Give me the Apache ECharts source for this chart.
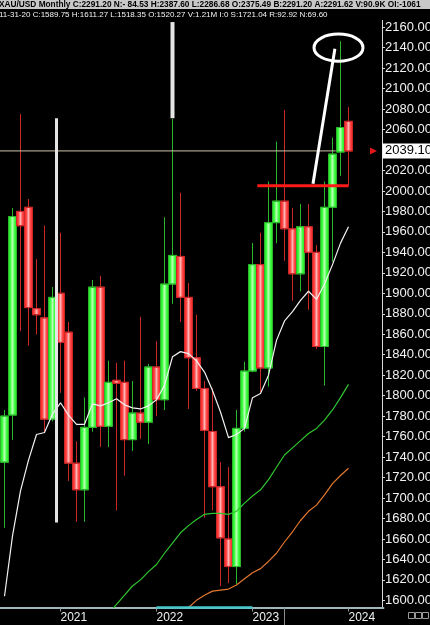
<!DOCTYPE html>
<html>
<head>
<meta charset="utf-8">
<title>XAU/USD Monthly</title>
<script src="https://cdn.jsdelivr.net/npm/echarts@6/dist/echarts.min.js"></script>
<style>
  html, body { margin: 0; padding: 0; background: #000; }
  #chart { width: 430px; height: 625px; }
</style>
</head>
<body>
<div id="chart"></div>
<script>
  // months on the x axis (last four are the empty room before the price scale)
  var months = ['2020-06','2020-07','2020-08','2020-09','2020-10','2020-11','2020-12',
    '2021-01','2021-02','2021-03','2021-04','2021-05','2021-06','2021-07','2021-08','2021-09','2021-10','2021-11','2021-12',
    '2022-01','2022-02','2022-03','2022-04','2022-05','2022-06','2022-07','2022-08','2022-09','2022-10','2022-11','2022-12',
    '2023-01','2023-02','2023-03','2023-04','2023-05','2023-06','2023-07','2023-08','2023-09','2023-10','2023-11','2023-12',
    '2024-01','2024-02','2024-03','2024-04','2024-05'];

  var opens  = [1735,1781,1980,1984,1885,1876,1777,1900,1862,1734,1708,1769,1906,1770,1815,1813,1757,1783,1774,1828,1796,1909,1936,1896,1837,1807,1765,1711,1660,1633,1768,1824,1928,1827,1969,1990,1963,1919,1965,1940,1848,1984,2038,2068];
  var closes = [1780,1975,1966,1886,1879,1777,1896,1852,1734,1708,1769,1906,1770,1813,1812,1757,1783,1774,1828,1796,1909,1937,1896,1837,1807,1766,1711,1661,1633,1768,1824,1928,1827,1969,1990,1963,1919,1965,1940,1848,1984,2036,2062,2039];
  var lows   = [1671,1757,1863,1849,1860,1765,1775,1803,1717,1677,1677,1765,1750,1750,1688,1722,1746,1758,1753,1780,1786,1890,1872,1787,1805,1681,1688,1614,1617,1616,1765,1823,1804,1809,1949,1932,1893,1902,1884,1846,1810,1931,2015,2005];
  var highs  = [1786,1983,2075,1992,1933,1966,1906,1959,1872,1755,1798,1913,1917,1834,1832,1834,1814,1877,1831,1853,1974,2070,1998,1910,1879,1814,1807,1735,1730,1786,1833,1949,1959,2009,2048,2079,1983,1987,1987,1947,2009,2052,2146,2082];

  // moving averages (white / green / orange)
  var maWhite = [1604,1663,1707,1737,1762,1764,1782,1793,1781,1772,1772,1792,1790,1793,1797,1791,1788,1787,1790,1796,1810,1838,1843,1841,1834,1823,1805,1784,1759,1762,1768,1798,1802,1820,1854,1873,1882,1893,1902,1894,1909,1928,1949,1965];
  var maGreen = [null,null,null,null,null,null,null,null,null,null,null,null,null,
    1587,1596,1605,1614,1620,1628,1635,1646,1656,1666,1673,1679,1684,1685,1685,1684,1687,1695,1702,1708,1718,1730,1742,1749,1756,1763,1768,1776,1786,1798,1811];
  var maOrange = [null,null,null,null,null,null,null,null,null,null,null,null,null,null,null,null,null,null,null,null,null,null,
    1586,1593,1600,1605,1609,1610,1611,1615,1621,1627,1631,1638,1646,1657,1667,1678,1687,1693,1703,1714,1722,1729];

  var priceTicks = [1600,1620,1640,1660,1680,1700,1720,1740,1760,1780,1800,1820,1840,1860,1880,1900,
    1920,1940,1960,1980,2000,2020,2040,2060,2080,2100,2120,2140,2160];
  var lastPrice = 2039.10;

  var headerLine1 = 'XAU/USD Monthly C:2291.20 N:- 84.53 H:2387.60 L:2286.68 O:2375.49 B:2291.20 A:2291.62 V:90.9K OI:-1061';
  var headerLine2 = '11-31-20 C:1589.75 H:1611.27 L:1518.35 O:1520.27 V:1.21M I:0 S:1721.04 R:92.92 N:69.60';

  // hand drawn notes, points are [month index, price]
  var noteBar1 = [[6.5, 1676], [6.5, 2071]];
  var noteBar2 = [[21, 2071], [21, 2165]];
  var noteLevel = [[31.6, 2005], [43.0, 2005]];
  var notePointer = [[38.56, 2007], [41.3, 2139]];
  var noteRing = {center: [41.75, 2140], rx: 3.06, ry: 13.2};
  var lastPriceLineEnd = 41.4;
  var highlightFrom = '2022-01', highlightTo = '2023-01';

  var candles = opens.map(function (o, i) { return [o, closes[i], lows[i], highs[i]]; });

  function isJan(index, value) { return value.slice(5) === '01'; }

  var upFill = new echarts.graphic.LinearGradient(0, 0, 1, 0, [
    {offset: 0, color: '#18d418'}, {offset: 0.28, color: '#45ff45'}, {offset: 0.5, color: '#b4ffb4'},
    {offset: 0.72, color: '#45ff45'}, {offset: 1, color: '#18d418'}]);
  var downFill = new echarts.graphic.LinearGradient(0, 0, 1, 0, [
    {offset: 0, color: '#f01818'}, {offset: 0.28, color: '#ff4848'}, {offset: 0.5, color: '#ffb4b4'},
    {offset: 0.72, color: '#ff4848'}, {offset: 1, color: '#f01818'}]);

  var chart = echarts.init(document.getElementById('chart'));
  chart.setOption({
    backgroundColor: '#000',
    animation: false,
    grid: {left: 0.5, right: 45.5, top: 20, bottom: 17.5, containLabel: false, outerBoundsMode: 'none'},
    xAxis: {
      type: 'category',
      data: months,
      boundaryGap: true,
      axisLine: {show: true, lineStyle: {color: '#9fb6ba', width: 2, type: [1, 1]}},
      axisTick: {show: true, alignWithLabel: true, interval: isJan, length: 4, lineStyle: {color: '#9a9a9a'}},
      axisLabel: {
        interval: isJan, align: 'left', margin: 4,
        color: '#f0f0f0', fontSize: 12, fontFamily: 'Liberation Sans',
        formatter: function (v) { return v.slice(0, 4); }
      },
      splitLine: {show: false}
    },
    yAxis: {
      type: 'value',
      position: 'right',
      offset: -2.5,
      min: 1593,
      max: 2167,
      axisLine: {show: true, lineStyle: {color: '#d8d8d8', width: 1}},
      axisTick: {show: true, length: 3, customValues: priceTicks, lineStyle: {color: '#d8d8d8'}},
      axisLabel: {
        customValues: priceTicks, margin: 3,
        color: '#f2f2f2', fontSize: 13, fontFamily: 'Liberation Sans',
        formatter: function (v) { return v.toFixed(2); }
      },
      splitLine: {show: false}
    },
    series: [
      {
        type: 'candlestick',
        data: candles,
        barWidth: 8,
        silent: true,
        itemStyle: {color: upFill, color0: downFill, borderColor: '#2cb82c', borderColor0: '#cc2828', borderWidth: 1}
      },
      {type: 'line', data: maWhite, symbol: 'none', silent: true, lineStyle: {color: '#f2f2f2', width: 1.2}},
      {type: 'line', data: maGreen, symbol: 'none', silent: true, lineStyle: {color: '#2fc62f', width: 1.2}},
      {type: 'line', data: maOrange, symbol: 'none', silent: true, lineStyle: {color: '#e3782f', width: 1.2}}
    ]
  });

  // notes, price tag and header need the axis scale, so they go in after the first layout
  function px(i) {
    var a = chart.convertToPixel({xAxisIndex: 0}, 0);
    var b = chart.convertToPixel({xAxisIndex: 0}, 1);
    return a + (b - a) * i;
  }
  function py(v) { return chart.convertToPixel({yAxisIndex: 0}, v); }
  function seg(p, color, width) {
    return {type: 'line', z: 100, silent: true,
      shape: {x1: px(p[0][0]), y1: py(p[0][1]), x2: px(p[1][0]), y2: py(p[1][1])},
      style: {stroke: color, lineWidth: width}};
  }

  var tagY = py(lastPrice);
  var axisY = py(1593);
  var ringX = px(noteRing.center[0]);
  var ringY = py(noteRing.center[1]);

  chart.setOption({
    graphic: [
      // last price level
      {type: 'line', z: 90, silent: true,
        shape: {x1: 0, y1: tagY, x2: px(lastPriceLineEnd), y2: tagY},
        style: {stroke: '#cfc7a8', lineWidth: 1}},
      seg(noteBar1, '#e4e4e4', 3),
      seg(noteBar2, '#e4e4e4', 4),
      seg(noteLevel, '#ff1a1a', 3),
      seg(notePointer, '#ffffff', 3),
      {type: 'ellipse', z: 100, silent: true,
        shape: {cx: ringX, cy: ringY, rx: px(noteRing.rx) - px(0), ry: py(noteRing.center[1] - noteRing.ry) - ringY},
        style: {fill: 'none', stroke: '#ffffff', lineWidth: 3}},
      // price tag on the scale
      {type: 'polygon', z: 100, silent: true,
        shape: {points: [[370, tagY - 3.5], [377, tagY], [370, tagY + 3.5]]},
        style: {fill: '#e01818'}},
      {type: 'rect', z: 100, silent: true,
        shape: {x: 382.5, y: tagY - 7.5, width: 48, height: 15},
        style: {fill: '#ffffff'}},
      {type: 'text', z: 101, silent: true,
        style: {text: lastPrice.toFixed(2), x: 385, y: tagY, textVerticalAlign: 'middle',
          fill: '#000', font: '13px "Liberation Sans"'}},
      // highlighted stretch of the time axis
      {type: 'line', z: 100, silent: true,
        shape: {x1: px(months.indexOf(highlightFrom)), y1: axisY, x2: px(months.indexOf(highlightTo)), y2: axisY},
        style: {stroke: '#46c8cc', lineWidth: 2.5}},
      {type: 'line', z: 100, silent: true,
        shape: {x1: px(35), y1: axisY, x2: px(35), y2: 625},
        style: {stroke: '#8a8a8a', lineWidth: 1}},
      {type: 'rect', z: 100, silent: true, shape: {x: 408.5, y: 612.5, width: 6, height: 6}, style: {fill: 'none', stroke: '#9a9a9a', lineWidth: 1}},
      {type: 'rect', z: 100, silent: true, shape: {x: 415.5, y: 612.5, width: 6, height: 6}, style: {fill: 'none', stroke: '#9a9a9a', lineWidth: 1}},
      {type: 'rect', z: 100, silent: true, shape: {x: 422.5, y: 612.5, width: 6, height: 6}, style: {fill: 'none', stroke: '#9a9a9a', lineWidth: 1}},
      // header
      {type: 'rect', z: 110, silent: true, shape: {x: 0, y: 0, width: 430, height: 20}, style: {fill: '#000'}},
      {type: 'rect', z: 111, silent: true, shape: {x: 0, y: 0, width: 430, height: 9}, style: {fill: '#c8c8c8'}},
      {type: 'text', z: 112, silent: true,
        style: {text: headerLine1, x: -1, y: 4.5, textVerticalAlign: 'middle', fill: '#000', font: 'bold 8.3px "Liberation Sans"'}},
      {type: 'text', z: 112, silent: true,
        style: {text: headerLine2, x: -1, y: 15, textVerticalAlign: 'middle', fill: '#f4f4f4', font: '8px "Liberation Sans"'}}
    ]
  });
</script>
</body>
</html>
